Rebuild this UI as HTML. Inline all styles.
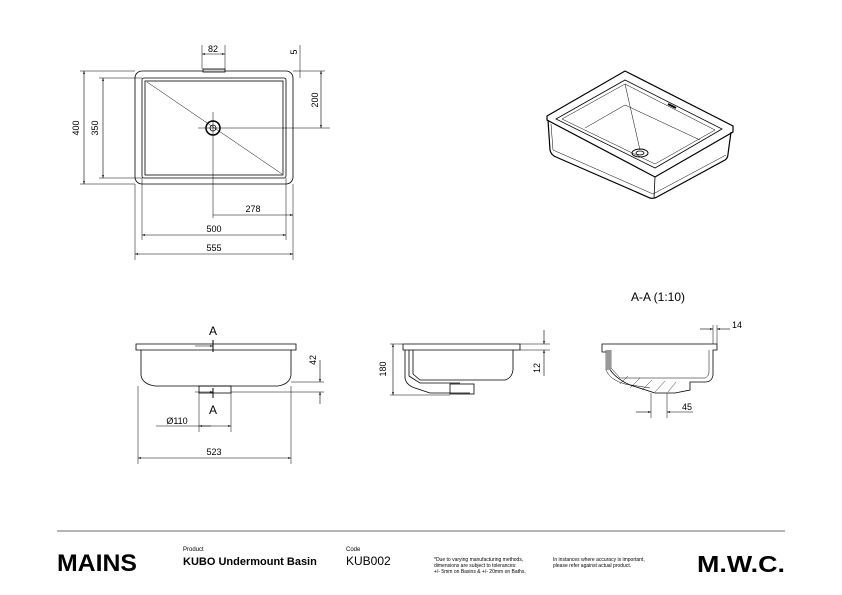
<!DOCTYPE html>
<html><head><meta charset="utf-8"><style>
body{margin:0;background:#fff;}
svg{display:block;font-family:"Liberation Sans",sans-serif;}
</style></head><body>
<svg width="842" height="595" viewBox="0 0 842 595" xmlns="http://www.w3.org/2000/svg">
<defs>
<marker id="a" viewBox="0 0 10 10" refX="10" refY="5" markerWidth="6" markerHeight="5" orient="auto-start-reverse"><path d="M0,2 L10,5 L0,8z" fill="#000"/></marker>
</defs>
<g fill="none" stroke="#000" stroke-width="0.8">
<rect x="135" y="71" width="158" height="113" rx="7"/>
<rect x="142" y="78" width="144" height="100" rx="2"/>
<rect x="145" y="81" width="138" height="94"/>
<line x1="147" y1="82" x2="282" y2="174" stroke-width="0.5"/>
<circle cx="213" cy="128" r="7" stroke-width="1.5"/>
<circle cx="213" cy="128" r="3"/>
<line x1="198" y1="128" x2="330" y2="128" stroke-width="0.5"/>
<line x1="213" y1="112" x2="213" y2="218" stroke-width="0.5"/>
<rect x="203" y="69" width="22" height="3" fill="#ccc"/>
<g stroke-width="0.5">
<line x1="80" y1="71" x2="135" y2="71"/><line x1="80" y1="184" x2="135" y2="184"/>
<line x1="99" y1="78" x2="142" y2="78"/><line x1="99" y1="178" x2="142" y2="178"/>
<line x1="293" y1="71" x2="325" y2="71"/>
<line x1="202" y1="45" x2="202" y2="69"/><line x1="225" y1="45" x2="225" y2="69"/>
<line x1="135" y1="184" x2="135" y2="260"/><line x1="293" y1="184" x2="293" y2="260"/>
<line x1="142" y1="178" x2="142" y2="240"/><line x1="286" y1="178" x2="286" y2="240"/>
<line x1="300" y1="45" x2="300" y2="78"/>
</g>
<g stroke-width="0.6">
<line x1="84" y1="71" x2="84" y2="184" marker-start="url(#a)" marker-end="url(#a)"/>
<line x1="103" y1="78" x2="103" y2="178" marker-start="url(#a)" marker-end="url(#a)"/>
<line x1="321" y1="71" x2="321" y2="128" marker-start="url(#a)" marker-end="url(#a)"/>
<line x1="202" y1="54" x2="225" y2="54" marker-start="url(#a)" marker-end="url(#a)"/>
<line x1="213" y1="215" x2="293" y2="215" marker-end="url(#a)"/>
<line x1="142" y1="235" x2="286" y2="235" marker-start="url(#a)" marker-end="url(#a)"/>
<line x1="135" y1="254" x2="293" y2="254" marker-start="url(#a)" marker-end="url(#a)"/>
</g>
<!-- 3D view -->
<path d="M547,116 L625,71 L733,126 L733,132 L655,177 L547,120z" stroke-width="1.2"/>
<path d="M556,119 L625,80 L722,129 L655,168z"/>
<path d="M562,119 L625,84 L715,130 L655,164z" stroke-width="0.5"/>
<path d="M548,120 L550,150 Q551,155 556,157 L650,198 Q654,199 657,197 L725,160 Q728,158 728,154 L731,132" stroke-width="1.2"/>
<line x1="655" y1="177" x2="654" y2="198"/>
<path d="M551,124 L553,150 L653,194 L726,155" stroke-width="0.5"/>
<line x1="625" y1="84" x2="640" y2="150" stroke-width="0.5"/>
<line x1="585" y1="128" x2="625" y2="105" stroke-width="0.5"/>
<line x1="625" y1="105" x2="700" y2="140" stroke-width="0.5"/>
<ellipse cx="640" cy="153" rx="8" ry="4" stroke-width="1"/>
<ellipse cx="640" cy="153" rx="4" ry="2"/>
<path d="M668,104 L676,108" stroke-width="2"/>
<!-- front view -->
<path d="M136,344 H296 V350 H136z"/>
<path d="M141,350 V375 Q142,384 155,386 H278 Q290,384 291,375 V350"/>
<rect x="199" y="386" width="32" height="7"/>
<path d="M195,346 H213" marker-end="url(#a)" stroke-width="0.6"/>
<path d="M195,392 H213" marker-end="url(#a)" stroke-width="0.6"/>
<line x1="213" y1="340" x2="213" y2="352" stroke-width="1"/>
<line x1="213" y1="388" x2="213" y2="398" stroke-width="1"/>
<g stroke-width="0.5">
<line x1="231" y1="392" x2="324" y2="392"/><line x1="291" y1="382" x2="324" y2="382"/>
<line x1="199" y1="393" x2="199" y2="432"/><line x1="231" y1="393" x2="231" y2="432"/>
<line x1="138" y1="386" x2="138" y2="464"/><line x1="291" y1="386" x2="291" y2="464"/>
</g>
<line x1="320" y1="360" x2="320" y2="382" marker-end="url(#a)" stroke-width="0.6"/>
<line x1="320" y1="404" x2="320" y2="392" marker-end="url(#a)" stroke-width="0.6"/>
<line x1="156" y1="426" x2="231" y2="426" marker-end="url(#a)" stroke-width="0.6"/>
<line x1="199" y1="426" x2="211" y2="426" marker-start="url(#a)" stroke-width="0.6"/>
<line x1="138" y1="458" x2="291" y2="458" marker-start="url(#a)" marker-end="url(#a)" stroke-width="0.6"/>
<!-- side view -->
<path d="M403,344 H520 V350 H403z"/>
<path d="M405,350 V378 Q406,385 415,388 L430,393 H470"/>
<path d="M409,350 V376 L420,383 H460"/>
<path d="M413,350 V374 L420,380 H505 Q512,378 513,370 V350"/>
<rect x="450" y="384" width="24" height="10"/>
<g stroke-width="0.5">
<line x1="390" y1="344" x2="403" y2="344"/><line x1="390" y1="395" x2="450" y2="395"/>
<line x1="520" y1="344" x2="550" y2="344"/><line x1="520" y1="350" x2="550" y2="350"/>
</g>
<line x1="393" y1="344" x2="393" y2="395" marker-start="url(#a)" marker-end="url(#a)" stroke-width="0.6"/>
<line x1="544" y1="330" x2="544" y2="344" marker-end="url(#a)" stroke-width="0.6"/>
<line x1="544" y1="376" x2="544" y2="350" marker-end="url(#a)" stroke-width="0.6"/>
<!-- section -->
<path d="M602,344 H717 V350 H713 V375 Q712,382 705,382 H690 V390 L675,393 H655 L630,385 Q608,375 607,360 V352 H602z"/>
<path d="M606,350 V370 Q610,380 625,384 L650,388" stroke-width="0.5"/>
<path d="M611,350 V368 L620,378 H705 Q709,376 709,372 V350" stroke-width="0.5"/>
<rect x="606" y="350" width="5" height="20" fill="#999" stroke="none"/>
<g stroke-width="0.4"><line x1="620" y1="384" x2="628" y2="376"/><line x1="630" y1="388" x2="640" y2="378"/><line x1="642" y1="390" x2="652" y2="380"/><line x1="655" y1="392" x2="665" y2="381"/><line x1="668" y1="392" x2="676" y2="382"/></g>
<g stroke-width="0.5">
<line x1="713" y1="325" x2="713" y2="344"/><line x1="717" y1="325" x2="717" y2="344"/>
<line x1="651" y1="393" x2="651" y2="418"/><line x1="667" y1="393" x2="667" y2="418"/>
</g>
<line x1="700" y1="329" x2="713" y2="329" marker-end="url(#a)" stroke-width="0.6"/>
<line x1="730" y1="329" x2="717" y2="329" marker-end="url(#a)" stroke-width="0.6"/>
<line x1="636" y1="412" x2="651" y2="412" marker-end="url(#a)" stroke-width="0.6"/>
<line x1="693" y1="412" x2="667" y2="412" marker-end="url(#a)" stroke-width="0.6"/>
<line x1="57" y1="531" x2="785" y2="531" stroke="#888" stroke-width="1.2"/>
</g>
<g font-size="9" fill="#000">
<text x="213" y="52" text-anchor="middle">82</text>
<text x="297" y="52" text-anchor="middle" transform="rotate(-90 297 52)">5</text>
<text x="79" y="128" text-anchor="middle" transform="rotate(-90 79 128)">400</text>
<text x="98" y="128" text-anchor="middle" transform="rotate(-90 98 128)">350</text>
<text x="318" y="100" text-anchor="middle" transform="rotate(-90 318 100)">200</text>
<text x="253" y="212" text-anchor="middle">278</text>
<text x="214" y="232" text-anchor="middle">500</text>
<text x="214" y="251" text-anchor="middle">555</text>
<text x="658" y="301" text-anchor="middle" font-size="12">A-A (1:10)</text>
<text x="213" y="335" text-anchor="middle" font-size="12">A</text>
<text x="213" y="414" text-anchor="middle" font-size="12">A</text>
<text x="316" y="360" text-anchor="middle" transform="rotate(-90 316 360)">42</text>
<text x="177" y="424" text-anchor="middle">Ø110</text>
<text x="214" y="455" text-anchor="middle">523</text>
<text x="386" y="369" text-anchor="middle" transform="rotate(-90 386 369)">180</text>
<text x="540" y="368" text-anchor="middle" transform="rotate(-90 540 368)">12</text>
<text x="737" y="328" text-anchor="middle">14</text>
<text x="687" y="410" text-anchor="middle">45</text>
</g>
<g fill="#000">
<text x="57" y="571" font-size="24" font-weight="bold" textLength="80" lengthAdjust="spacingAndGlyphs">MAINS</text>
<text x="183" y="551" font-size="6">Product</text>
<text x="183" y="565" font-size="11" font-weight="bold">KUBO Undermount Basin</text>
<text x="346" y="551" font-size="6">Code</text>
<text x="346" y="565" font-size="12">KUB002</text>
<text x="434" y="561" font-size="5">*Due to varying manufacturing methods,</text>
<text x="434" y="567" font-size="5">dimensions are subject to tolerances:</text>
<text x="434" y="573" font-size="5">+/- 5mm on Basins &amp; +/- 20mm on Baths.</text>
<text x="553" y="561" font-size="5">In instances where accuracy is important,</text>
<text x="553" y="567" font-size="5">please refer against actual product.</text>
<text x="697" y="572" font-size="23" font-weight="bold" textLength="88" lengthAdjust="spacingAndGlyphs">M.W.C.</text>
</g>
</svg>
</body></html>
